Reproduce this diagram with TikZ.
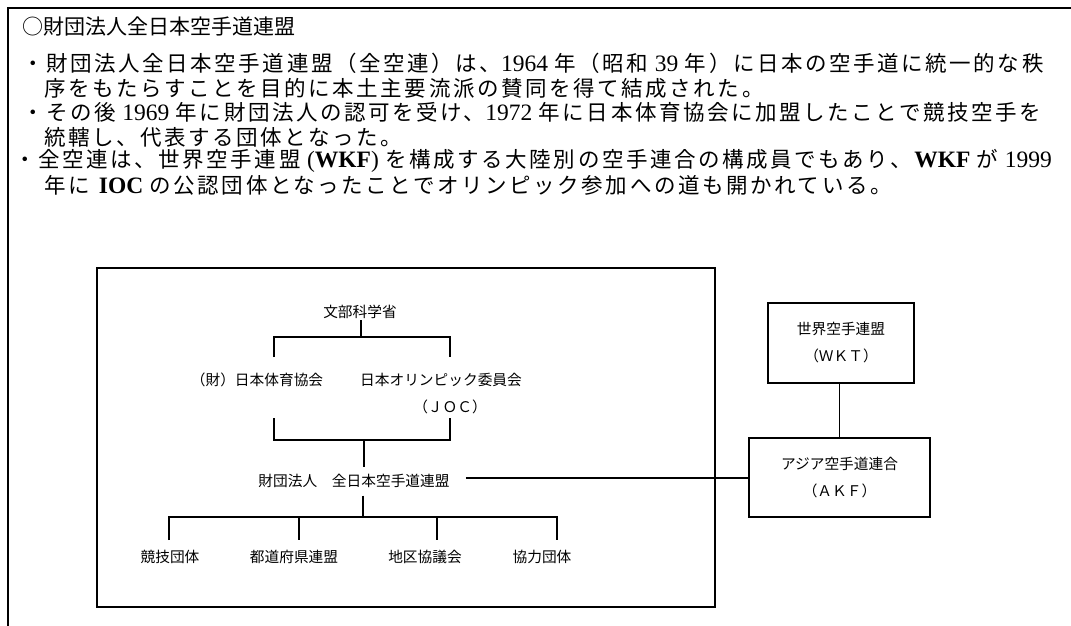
\documentclass[tikz,border=0pt]{standalone}
\usepackage{fontspec}
\setmainfont{Liberation Serif}
\newfontfamily\jp[LetterSpace=12]{Noto Sans CJK JP}
\newfontfamily\jg{Noto Sans CJK JP}
\newcommand\lat[1]{{\rmfamily\fontsize{23.5}{24}\selectfont #1}}
\newcommand\gap{\hspace{6.5pt}}
\begin{document}
\begin{tikzpicture}[x=1pt,y=-1pt,
  body/.style={anchor=west,inner sep=0pt,font=\jp\fontsize{21.5}{24}\selectfont},
  head/.style={anchor=west,inner sep=0pt,font=\jg\fontsize{21}{24}\selectfont},
  lbl/.style={inner xsep=1pt,inner ysep=1pt,font=\jg\fontsize{14.7}{27}\selectfont},
  leaf/.style={inner xsep=1pt,inner ysep=9pt,font=\jg\fontsize{14.7}{27}\selectfont},
  orgbox/.style={draw,line width=2.4pt,align=center,inner sep=0pt,font=\jg\fontsize{14.7}{27}\selectfont},
  tree/.style={line width=2pt},
  frameline/.style={line width=2.2pt}]
\useasboundingbox (0,0) rectangle (1071,625);
% outer frame
\draw[frameline] (8,630) -- (8,8) -- (1076,8);
% text
\node[head] (title) at (22,27) {○財団法人全日本空手道連盟};
\node[body] (l1) at (22,63) {・財団法人全日本空手道連盟（全空連）は、\lat{1964}\gap 年（昭和\gap\lat{39}\gap 年）に日本の空手道に統一的な秩};
\node[body] (l2) at (44,88) {序をもたらすことを目的に本土主要流派の賛同を得て結成された。};
\node[body] (l3) at (22,112) {・その後\gap\lat{1969}\gap 年に財団法人の認可を受け、\lat{1972}\gap 年に日本体育協会に加盟したことで競技空手を};
\node[body] (l4) at (44,137) {統轄し、代表する団体となった。};
\node[body] (l5) at (14,161) {・全空連は、世界空手連盟\gap\lat{(\textbf{WKF})}\gap を構成する大陸別の空手連合の構成員でもあり、\lat{\textbf{WKF}}\gap が\gap\lat{1999}};
\node[body] (l6) at (44,185) {年に\gap\lat{\textbf{IOC}}\gap の公認団体となったことでオリンピック参加への道も開かれている。};
% inner frame
\node[draw,line width=2.5pt,minimum width=618pt,minimum height=339pt,inner sep=0pt] (frame) at (406,437.5) {};
% org chart
\node[lbl] (mext) at (360,312) {文部科学省};
\node[lbl] (taikyo) at (257,380) {（財）日本体育協会};
\node[lbl] (joc) at (441,380) {日本オリンピック委員会};
\node[lbl] (jocab) at (450,407) {（ＪＯＣ）};
\node[lbl,inner xsep=16pt,inner ysep=7.5pt] (zkf) at (354,481) {財団法人　全日本空手道連盟};
\node[leaf] (c1) at (170,557) {競技団体};
\node[leaf] (c2) at (294,557) {都道府県連盟};
\node[leaf] (c3) at (425,557) {地区協議会};
\node[leaf] (c4) at (542,557) {協力団体};
\node[orgbox,minimum width=146pt,minimum height=80pt] (wkf) at (841,343) {世界空手連盟\\（ＷＫＴ）};
\node[orgbox,minimum width=181pt,minimum height=79pt] (akf) at (839.5,477.5) {アジア空手道連合\\（ＡＫＦ）};
% coordinates
\coordinate (t1) at (361,337);
\coordinate (ul) at (274,357);
\coordinate (ur) at (450,357);
\coordinate (dl) at (274,418);
\coordinate (dr) at (450,418);
\coordinate (t2) at (364,440);
\coordinate (t3) at (363,517);
\coordinate (g1) at (169,540);
\coordinate (g2) at (299,540);
\coordinate (g3) at (437,540);
\coordinate (g4) at (557,540);
% connectors
\draw[tree] (mext.south -| t1) -- (t1);
\draw[tree] (ul) -- (ul |- t1) -- (ur |- t1) -- (ur);
\draw[tree] (dl) -- (dl |- t2) -- (dr |- t2) -- (dr);
\draw[tree] (t2) -- (zkf.north -| t2);
\draw[tree] (zkf.south -| t3) -- (t3);
\draw[tree] (g1) -- (g1 |- t3) -- (g4 |- t3) -- (g4);
\draw[tree] (g2 |- t3) -- (g2);
\draw[tree] (g3 |- t3) -- (g3);
\draw[tree] (zkf.east |- akf.west) -- (akf.west);
\draw[line width=1pt] (wkf.south -| akf.north) -- (akf.north);
\end{tikzpicture}
\end{document}
